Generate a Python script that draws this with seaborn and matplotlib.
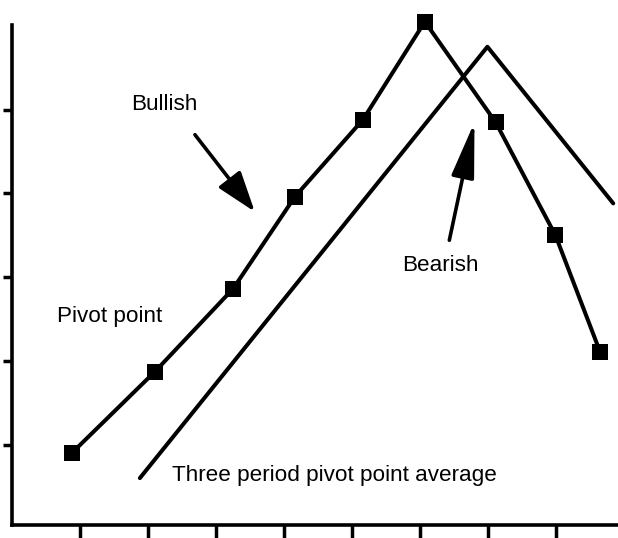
import matplotlib
matplotlib.use("Agg")
import matplotlib.pyplot as plt
import seaborn as sns
import pandas as pd

# Pivot point series (one square marker per period)
pivot_x = [0.88, 2.10, 3.25, 4.16, 5.16, 6.07, 7.11, 7.99, 8.65]
pivot_y = [0.90, 1.87, 2.86, 3.96, 4.88, 6.05, 4.85, 3.50, 2.10]

# Three period pivot point average
avg_x = [1.88, 6.99, 8.84]
avg_y = [0.60, 5.75, 3.88]

x_ticks = [1, 2, 3, 4, 5, 6, 7, 8]
y_ticks = [1, 2, 3, 4, 5]

sns.set_style("ticks")
plt.rcParams["font.family"] = ["Liberation Sans", "DejaVu Sans"]

fig = plt.figure(figsize=(6.18, 5.38), dpi=100)
ax = fig.add_axes([12 / 618, 13 / 538, 606 / 618, 500 / 538])

pivots = pd.DataFrame({"x": pivot_x, "y": pivot_y})
average = pd.DataFrame({"x": avg_x, "y": avg_y})

sns.lineplot(data=average, x="x", y="y", ax=ax, color="black", lw=2.9,
             estimator=None, sort=False)
sns.lineplot(data=pivots, x="x", y="y", ax=ax, color="black", lw=2.9,
             marker="s", markersize=12, markeredgewidth=0,
             estimator=None, sort=False)
for line in ax.get_lines():
    line.set_clip_on(False)

ax.set_xlim(0, 8.91)
ax.set_ylim(0.04, 6.01)
ax.set_xticks(x_ticks)
ax.set_yticks(y_ticks)
ax.set_xticklabels([])
ax.set_yticklabels([])
ax.set_xlabel("")
ax.set_ylabel("")

sns.despine(ax=ax)
for side in ("left", "bottom"):
    ax.spines[side].set_linewidth(2.6)
    ax.spines[side].set_color("black")
ax.tick_params(axis="y", direction="out", length=6.5, width=2.5, color="black")
ax.tick_params(axis="x", direction="out", length=10, width=2.5, color="black")

text_kw = dict(fontsize=16.2, color="black", va="baseline", ha="center")
ax.text(2.24, 5.0, "Bullish", **text_kw)
ax.text(1.44, 2.46, "Pivot point", **text_kw)
ax.text(6.30, 3.07, "Bearish", **text_kw)
ax.text(4.74, 0.56, "Three period pivot point average", **text_kw)

ax.annotate("", xy=(3.57, 3.78), xytext=(2.69, 4.70),
            arrowprops=dict(arrowstyle="-|>,head_length=25,head_width=8.5",
                            mutation_scale=1, lw=2.6, color="black",
                            shrinkA=0, shrinkB=0))
ax.annotate("", xy=(6.80, 4.85), xytext=(6.43, 3.44),
            arrowprops=dict(arrowstyle="-|>,head_length=34,head_width=7",
                            mutation_scale=1, lw=2.6, color="black",
                            shrinkA=0, shrinkB=0))

fig.savefig("out.png", dpi=100)
